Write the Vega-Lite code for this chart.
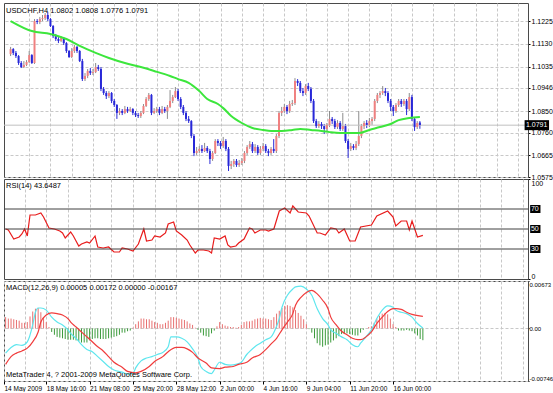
{
"$schema": "https://vega.github.io/schema/vega-lite/v6.json",
"padding": {"left": 2, "top": 2, "right": 0, "bottom": 0},
"background": "white",
"spacing": 2,
"bounds": "flush",
"config": {
 "font": "Liberation Sans Narrow, Liberation Sans, sans-serif",
 "view": {"stroke": "#4a4a4a", "strokeWidth": 1},
 "axis": {"labelFontSize": 7, "labelColor": "#000000", "tickColor": "#000000", "gridColor": "#c8c8c8", "gridDash": [3, 2], "gridWidth": 1, "domain": false, "minExtent": 0, "labelPadding": 1, "tickSize": 2},
 "title": {"fontSize": 7.5, "fontWeight": "normal", "color": "#000000", "anchor": "start", "frame": "group", "offset": -11, "dx": 2}
},
"datasets": {
 "candles": [
{"i":1,"o":1.1087,"h":1.1117,"l":1.1079,"c":1.1108},
{"i":2,"o":1.1108,"h":1.1112,"l":1.1083,"c":1.1092},
{"i":3,"o":1.1092,"h":1.1100,"l":1.1071,"c":1.1079},
{"i":4,"o":1.1079,"h":1.1083,"l":1.1042,"c":1.1050},
{"i":5,"o":1.1050,"h":1.1058,"l":1.1029,"c":1.1033},
{"i":6,"o":1.1033,"h":1.1058,"l":1.1029,"c":1.1042},
{"i":7,"o":1.1042,"h":1.1062,"l":1.1037,"c":1.1054},
{"i":8,"o":1.1054,"h":1.1100,"l":1.1050,"c":1.1083},
{"i":9,"o":1.1083,"h":1.1087,"l":1.1046,"c":1.1050},
{"i":10,"o":1.1050,"h":1.1233,"l":1.1046,"c":1.1225},
{"i":11,"o":1.1225,"h":1.1233,"l":1.1212,"c":1.1221},
{"i":12,"o":1.1221,"h":1.1242,"l":1.1212,"c":1.1233},
{"i":13,"o":1.1233,"h":1.1250,"l":1.1225,"c":1.1237},
{"i":14,"o":1.1237,"h":1.1258,"l":1.1229,"c":1.1250},
{"i":15,"o":1.1250,"h":1.1262,"l":1.1225,"c":1.1233},
{"i":16,"o":1.1233,"h":1.1237,"l":1.1200,"c":1.1204},
{"i":17,"o":1.1204,"h":1.1208,"l":1.1154,"c":1.1162},
{"i":18,"o":1.1162,"h":1.1171,"l":1.1142,"c":1.1150},
{"i":19,"o":1.1150,"h":1.1158,"l":1.1133,"c":1.1142},
{"i":20,"o":1.1142,"h":1.1162,"l":1.1137,"c":1.1154},
{"i":21,"o":1.1154,"h":1.1158,"l":1.1125,"c":1.1133},
{"i":22,"o":1.1133,"h":1.1137,"l":1.1092,"c":1.1100},
{"i":23,"o":1.1100,"h":1.1104,"l":1.1071,"c":1.1075},
{"i":24,"o":1.1075,"h":1.1112,"l":1.1071,"c":1.1100},
{"i":25,"o":1.1100,"h":1.1125,"l":1.1092,"c":1.1117},
{"i":26,"o":1.1117,"h":1.1121,"l":1.1092,"c":1.1100},
{"i":27,"o":1.1100,"h":1.1104,"l":1.1054,"c":1.1058},
{"i":28,"o":1.1058,"h":1.1067,"l":1.0975,"c":1.0983},
{"i":29,"o":1.0983,"h":1.1008,"l":1.0975,"c":1.0996},
{"i":30,"o":1.0996,"h":1.1025,"l":1.0987,"c":1.1017},
{"i":31,"o":1.1017,"h":1.1029,"l":1.1000,"c":1.1008},
{"i":32,"o":1.1008,"h":1.1025,"l":1.1000,"c":1.1012},
{"i":33,"o":1.1012,"h":1.1050,"l":1.1008,"c":1.1033},
{"i":34,"o":1.1033,"h":1.1042,"l":1.1017,"c":1.1025},
{"i":35,"o":1.1025,"h":1.1033,"l":1.0933,"c":1.0942},
{"i":36,"o":1.0942,"h":1.0950,"l":1.0917,"c":1.0925},
{"i":37,"o":1.0925,"h":1.0933,"l":1.0900,"c":1.0912},
{"i":38,"o":1.0912,"h":1.0933,"l":1.0904,"c":1.0925},
{"i":39,"o":1.0925,"h":1.0929,"l":1.0883,"c":1.0892},
{"i":40,"o":1.0892,"h":1.0900,"l":1.0867,"c":1.0875},
{"i":41,"o":1.0875,"h":1.0879,"l":1.0817,"c":1.0842},
{"i":42,"o":1.0842,"h":1.0862,"l":1.0833,"c":1.0850},
{"i":43,"o":1.0850,"h":1.0858,"l":1.0833,"c":1.0842},
{"i":44,"o":1.0842,"h":1.0871,"l":1.0837,"c":1.0858},
{"i":45,"o":1.0858,"h":1.0867,"l":1.0842,"c":1.0850},
{"i":46,"o":1.0850,"h":1.0867,"l":1.0846,"c":1.0858},
{"i":47,"o":1.0858,"h":1.0862,"l":1.0833,"c":1.0842},
{"i":48,"o":1.0842,"h":1.0850,"l":1.0825,"c":1.0833},
{"i":49,"o":1.0833,"h":1.0842,"l":1.0821,"c":1.0829},
{"i":50,"o":1.0829,"h":1.0850,"l":1.0821,"c":1.0842},
{"i":51,"o":1.0842,"h":1.0879,"l":1.0837,"c":1.0871},
{"i":52,"o":1.0871,"h":1.0908,"l":1.0867,"c":1.0900},
{"i":53,"o":1.0900,"h":1.0925,"l":1.0892,"c":1.0917},
{"i":54,"o":1.0917,"h":1.0921,"l":1.0833,"c":1.0842},
{"i":55,"o":1.0842,"h":1.0862,"l":1.0837,"c":1.0850},
{"i":56,"o":1.0850,"h":1.0867,"l":1.0842,"c":1.0858},
{"i":57,"o":1.0858,"h":1.0867,"l":1.0833,"c":1.0842},
{"i":58,"o":1.0842,"h":1.0871,"l":1.0837,"c":1.0858},
{"i":59,"o":1.0858,"h":1.0867,"l":1.0842,"c":1.0850},
{"i":60,"o":1.0850,"h":1.0875,"l":1.0817,"c":1.0867},
{"i":61,"o":1.0867,"h":1.0937,"l":1.0862,"c":1.0892},
{"i":62,"o":1.0892,"h":1.0917,"l":1.0883,"c":1.0908},
{"i":63,"o":1.0908,"h":1.0950,"l":1.0904,"c":1.0933},
{"i":64,"o":1.0933,"h":1.0942,"l":1.0892,"c":1.0900},
{"i":65,"o":1.0900,"h":1.0908,"l":1.0858,"c":1.0867},
{"i":66,"o":1.0867,"h":1.0875,"l":1.0833,"c":1.0842},
{"i":67,"o":1.0842,"h":1.0850,"l":1.0808,"c":1.0817},
{"i":68,"o":1.0817,"h":1.0829,"l":1.0800,"c":1.0808},
{"i":69,"o":1.0808,"h":1.0812,"l":1.0737,"c":1.0746},
{"i":70,"o":1.0746,"h":1.0754,"l":1.0662,"c":1.0675},
{"i":71,"o":1.0675,"h":1.0700,"l":1.0667,"c":1.0683},
{"i":72,"o":1.0683,"h":1.0704,"l":1.0675,"c":1.0692},
{"i":73,"o":1.0692,"h":1.0708,"l":1.0675,"c":1.0683},
{"i":74,"o":1.0683,"h":1.0717,"l":1.0679,"c":1.0696},
{"i":75,"o":1.0696,"h":1.0704,"l":1.0675,"c":1.0683},
{"i":76,"o":1.0683,"h":1.0692,"l":1.0629,"c":1.0650},
{"i":77,"o":1.0650,"h":1.0683,"l":1.0642,"c":1.0675},
{"i":78,"o":1.0675,"h":1.0733,"l":1.0671,"c":1.0725},
{"i":79,"o":1.0725,"h":1.0733,"l":1.0704,"c":1.0717},
{"i":80,"o":1.0717,"h":1.0725,"l":1.0692,"c":1.0704},
{"i":81,"o":1.0704,"h":1.0742,"l":1.0696,"c":1.0725},
{"i":82,"o":1.0725,"h":1.0733,"l":1.0683,"c":1.0692},
{"i":83,"o":1.0692,"h":1.0700,"l":1.0600,"c":1.0621},
{"i":84,"o":1.0621,"h":1.0642,"l":1.0608,"c":1.0629},
{"i":85,"o":1.0629,"h":1.0650,"l":1.0617,"c":1.0642},
{"i":86,"o":1.0642,"h":1.0650,"l":1.0617,"c":1.0625},
{"i":87,"o":1.0625,"h":1.0646,"l":1.0617,"c":1.0633},
{"i":88,"o":1.0633,"h":1.0654,"l":1.0625,"c":1.0642},
{"i":89,"o":1.0642,"h":1.0683,"l":1.0633,"c":1.0675},
{"i":90,"o":1.0675,"h":1.0708,"l":1.0667,"c":1.0700},
{"i":91,"o":1.0700,"h":1.0725,"l":1.0692,"c":1.0712},
{"i":92,"o":1.0712,"h":1.0721,"l":1.0675,"c":1.0683},
{"i":93,"o":1.0683,"h":1.0712,"l":1.0675,"c":1.0700},
{"i":94,"o":1.0700,"h":1.0708,"l":1.0667,"c":1.0675},
{"i":95,"o":1.0675,"h":1.0704,"l":1.0667,"c":1.0692},
{"i":96,"o":1.0692,"h":1.0717,"l":1.0683,"c":1.0704},
{"i":97,"o":1.0704,"h":1.0712,"l":1.0675,"c":1.0683},
{"i":98,"o":1.0683,"h":1.0692,"l":1.0662,"c":1.0675},
{"i":99,"o":1.0675,"h":1.0700,"l":1.0667,"c":1.0692},
{"i":100,"o":1.0692,"h":1.0733,"l":1.0675,"c":1.0683},
{"i":101,"o":1.0683,"h":1.0754,"l":1.0675,"c":1.0746},
{"i":102,"o":1.0746,"h":1.0850,"l":1.0737,"c":1.0842},
{"i":103,"o":1.0842,"h":1.0867,"l":1.0829,"c":1.0850},
{"i":104,"o":1.0850,"h":1.0879,"l":1.0842,"c":1.0867},
{"i":105,"o":1.0867,"h":1.0875,"l":1.0837,"c":1.0850},
{"i":106,"o":1.0850,"h":1.0892,"l":1.0842,"c":1.0879},
{"i":107,"o":1.0879,"h":1.0896,"l":1.0871,"c":1.0883},
{"i":108,"o":1.0883,"h":1.0987,"l":1.0875,"c":1.0975},
{"i":109,"o":1.0975,"h":1.0983,"l":1.0954,"c":1.0967},
{"i":110,"o":1.0967,"h":1.0975,"l":1.0925,"c":1.0933},
{"i":111,"o":1.0933,"h":1.0946,"l":1.0912,"c":1.0925},
{"i":112,"o":1.0925,"h":1.0962,"l":1.0917,"c":1.0954},
{"i":113,"o":1.0954,"h":1.0967,"l":1.0933,"c":1.0942},
{"i":114,"o":1.0942,"h":1.0950,"l":1.0883,"c":1.0892},
{"i":115,"o":1.0892,"h":1.0900,"l":1.0800,"c":1.0808},
{"i":116,"o":1.0808,"h":1.0817,"l":1.0779,"c":1.0787},
{"i":117,"o":1.0787,"h":1.0808,"l":1.0779,"c":1.0796},
{"i":118,"o":1.0796,"h":1.0804,"l":1.0775,"c":1.0787},
{"i":119,"o":1.0787,"h":1.0796,"l":1.0754,"c":1.0775},
{"i":120,"o":1.0775,"h":1.0800,"l":1.0767,"c":1.0792},
{"i":121,"o":1.0792,"h":1.0850,"l":1.0783,"c":1.0817},
{"i":122,"o":1.0817,"h":1.0825,"l":1.0796,"c":1.0808},
{"i":123,"o":1.0808,"h":1.0817,"l":1.0775,"c":1.0783},
{"i":124,"o":1.0783,"h":1.0812,"l":1.0775,"c":1.0800},
{"i":125,"o":1.0800,"h":1.0808,"l":1.0767,"c":1.0775},
{"i":126,"o":1.0775,"h":1.0842,"l":1.0767,"c":1.0787},
{"i":127,"o":1.0787,"h":1.0796,"l":1.0717,"c":1.0725},
{"i":128,"o":1.0725,"h":1.0733,"l":1.0654,"c":1.0692},
{"i":129,"o":1.0692,"h":1.0717,"l":1.0683,"c":1.0704},
{"i":130,"o":1.0704,"h":1.0712,"l":1.0687,"c":1.0696},
{"i":131,"o":1.0696,"h":1.0725,"l":1.0687,"c":1.0712},
{"i":132,"o":1.0712,"h":1.0850,"l":1.0704,"c":1.0746},
{"i":133,"o":1.0746,"h":1.0796,"l":1.0737,"c":1.0787},
{"i":134,"o":1.0787,"h":1.0808,"l":1.0775,"c":1.0800},
{"i":135,"o":1.0800,"h":1.0812,"l":1.0779,"c":1.0792},
{"i":136,"o":1.0792,"h":1.0821,"l":1.0783,"c":1.0808},
{"i":137,"o":1.0808,"h":1.0825,"l":1.0792,"c":1.0817},
{"i":138,"o":1.0817,"h":1.0900,"l":1.0808,"c":1.0892},
{"i":139,"o":1.0892,"h":1.0925,"l":1.0883,"c":1.0917},
{"i":140,"o":1.0917,"h":1.0933,"l":1.0904,"c":1.0925},
{"i":141,"o":1.0925,"h":1.0954,"l":1.0917,"c":1.0933},
{"i":142,"o":1.0933,"h":1.0946,"l":1.0912,"c":1.0925},
{"i":143,"o":1.0925,"h":1.0933,"l":1.0883,"c":1.0892},
{"i":144,"o":1.0892,"h":1.0900,"l":1.0850,"c":1.0867},
{"i":145,"o":1.0867,"h":1.0875,"l":1.0829,"c":1.0850},
{"i":146,"o":1.0850,"h":1.0883,"l":1.0842,"c":1.0875},
{"i":147,"o":1.0875,"h":1.0900,"l":1.0867,"c":1.0892},
{"i":148,"o":1.0892,"h":1.0900,"l":1.0867,"c":1.0879},
{"i":149,"o":1.0879,"h":1.0900,"l":1.0871,"c":1.0892},
{"i":150,"o":1.0892,"h":1.0900,"l":1.0833,"c":1.0858},
{"i":151,"o":1.0858,"h":1.0925,"l":1.0850,"c":1.0908},
{"i":152,"o":1.0908,"h":1.0917,"l":1.0808,"c":1.0817},
{"i":153,"o":1.0817,"h":1.0825,"l":1.0767,"c":1.0783},
{"i":154,"o":1.0783,"h":1.0808,"l":1.0775,"c":1.0800},
{"i":155,"o":1.0802,"h":1.0808,"l":1.0776,"c":1.0791}
 ],
 "ma": [
{"i":1,"v":1.1225},{"i":9,"v":1.1183},{"i":16,"v":1.1171},{"i":22,"v":1.1150},{"i":27,"v":1.1121},{"i":33,"v":1.1092},{"i":38,"v":1.1071},{"i":44,"v":1.1050},{"i":50,"v":1.1033},{"i":55,"v":1.1017},{"i":61,"v":1.0996},{"i":64,"v":1.0983},{"i":68,"v":1.0967},{"i":72,"v":1.0933},{"i":75,"v":1.0900},{"i":79,"v":1.0879},{"i":81,"v":1.0862},{"i":84,"v":1.0829},{"i":88,"v":1.0800},{"i":92,"v":1.0779},{"i":96,"v":1.0771},{"i":99,"v":1.0767},{"i":103,"v":1.0767},{"i":107,"v":1.0771},{"i":110,"v":1.0775},{"i":114,"v":1.0771},{"i":118,"v":1.0767},{"i":121,"v":1.0762},{"i":125,"v":1.0758},{"i":129,"v":1.0758},{"i":132,"v":1.0758},{"i":136,"v":1.0771},{"i":140,"v":1.0783},{"i":144,"v":1.0796},{"i":147,"v":1.0812},{"i":151,"v":1.0821},{"i":155,"v":1.0825}
 ],
 "rsi": [
{"i":1,"v":50},{"i":2,"v":49},{"i":4,"v":40},{"i":6,"v":42},{"i":7,"v":45},{"i":8,"v":50},{"i":9,"v":43},{"i":10,"v":64},{"i":12,"v":64},{"i":14,"v":66},{"i":15,"v":62},{"i":17,"v":51},{"i":19,"v":50},{"i":21,"v":48},{"i":22,"v":46},{"i":23,"v":41},{"i":25,"v":47},{"i":26,"v":43},{"i":28,"v":33},{"i":29,"v":35},{"i":31,"v":37},{"i":32,"v":36},{"i":34,"v":43},{"i":35,"v":32},{"i":37,"v":31},{"i":39,"v":32},{"i":41,"v":27},{"i":43,"v":27},{"i":44,"v":31},{"i":46,"v":30},{"i":48,"v":28},{"i":50,"v":35},{"i":52,"v":50},{"i":53,"v":38},{"i":55,"v":39},{"i":56,"v":43},{"i":58,"v":42},{"i":60,"v":46},{"i":61,"v":55},{"i":63,"v":57},{"i":64,"v":48},{"i":66,"v":44},{"i":68,"v":39},{"i":69,"v":34},{"i":71,"v":26},{"i":72,"v":29},{"i":74,"v":29},{"i":76,"v":28},{"i":77,"v":26},{"i":78,"v":41},{"i":80,"v":40},{"i":82,"v":43},{"i":83,"v":34},{"i":84,"v":32},{"i":86,"v":33},{"i":87,"v":36},{"i":89,"v":40},{"i":91,"v":51},{"i":92,"v":50},{"i":93,"v":46},{"i":95,"v":49},{"i":97,"v":49},{"i":98,"v":48},{"i":100,"v":50},{"i":102,"v":68},{"i":104,"v":71},{"i":106,"v":66},{"i":107,"v":73},{"i":109,"v":67},{"i":112,"v":66},{"i":113,"v":63},{"i":116,"v":46},{"i":117,"v":46},{"i":119,"v":44},{"i":121,"v":51},{"i":123,"v":50},{"i":124,"v":46},{"i":126,"v":50},{"i":128,"v":38},{"i":130,"v":38},{"i":132,"v":52},{"i":136,"v":54},{"i":138,"v":63},{"i":142,"v":68},{"i":144,"v":62},{"i":145,"v":53},{"i":147,"v":58},{"i":149,"v":58},{"i":150,"v":49},{"i":151,"v":58},{"i":153,"v":42},{"i":155,"v":43.65}
 ],
 "macd": [
{"i":1,"v":-0.0035},{"i":3,"v":-0.0027},{"i":5,"v":-0.0023},{"i":7,"v":-0.0024},{"i":9,"v":-0.0019},{"i":11,"v":0.0005},{"i":12,"v":0.0023},{"i":13,"v":0.0029},{"i":14,"v":0.0029},{"i":16,"v":0.0026},{"i":18,"v":0.0016},{"i":20,"v":0.0009},{"i":22,"v":0.0005},{"i":24,"v":-0.0002},{"i":25,"v":-0.0007},{"i":27,"v":-0.0014},{"i":29,"v":-0.0023},{"i":31,"v":-0.003},{"i":33,"v":-0.0033},{"i":35,"v":-0.004},{"i":37,"v":-0.0047},{"i":39,"v":-0.0054},{"i":41,"v":-0.0059},{"i":44,"v":-0.0062},{"i":46,"v":-0.0065},{"i":48,"v":-0.0064},{"i":49,"v":-0.0056},{"i":51,"v":-0.0046},{"i":53,"v":-0.0042},{"i":55,"v":-0.004},{"i":57,"v":-0.0037},{"i":59,"v":-0.0034},{"i":61,"v":-0.0026},{"i":62,"v":-0.0012},{"i":64,"v":-0.0012},{"i":66,"v":-0.0014},{"i":68,"v":-0.0019},{"i":70,"v":-0.0029},{"i":72,"v":-0.0042},{"i":73,"v":-0.0054},{"i":75,"v":-0.0061},{"i":77,"v":-0.0064},{"i":78,"v":-0.0059},{"i":80,"v":-0.0048},{"i":82,"v":-0.0051},{"i":84,"v":-0.0052},{"i":86,"v":-0.0051},{"i":88,"v":-0.0048},{"i":90,"v":-0.0037},{"i":91,"v":-0.0033},{"i":93,"v":-0.0026},{"i":95,"v":-0.0021},{"i":97,"v":-0.0016},{"i":99,"v":-0.0012},{"i":101,"v":0.0003},{"i":102,"v":0.0014},{"i":103,"v":0.003},{"i":105,"v":0.0047},{"i":107,"v":0.0056},{"i":108,"v":0.0059},{"i":110,"v":0.006},{"i":112,"v":0.0056},{"i":114,"v":0.0047},{"i":116,"v":0.0028},{"i":118,"v":0.0014},{"i":120,"v":0.0005},{"i":121,"v":-0.0002},{"i":123,"v":-0.0007},{"i":125,"v":-0.0012},{"i":127,"v":-0.0016},{"i":129,"v":-0.0023},{"i":131,"v":-0.0026},{"i":132,"v":-0.0021},{"i":134,"v":-0.0012},{"i":136,"v":-0.0002},{"i":138,"v":0.0014},{"i":140,"v":0.0026},{"i":142,"v":0.0032},{"i":144,"v":0.003},{"i":145,"v":0.0026},{"i":147,"v":0.0023},{"i":149,"v":0.0021},{"i":151,"v":0.0016},{"i":153,"v":0.0007},{"i":155,"v":0.00005}
 ],
 "signal": [
{"i":1,"v":-0.0051},{"i":3,"v":-0.004},{"i":5,"v":-0.0035},{"i":7,"v":-0.0032},{"i":9,"v":-0.0028},{"i":11,"v":-0.0019},{"i":13,"v":-0.0005},{"i":14,"v":0.0009},{"i":16,"v":0.0019},{"i":18,"v":0.0022},{"i":20,"v":0.0021},{"i":22,"v":0.0019},{"i":24,"v":0.0014},{"i":25,"v":0.0009},{"i":27,"v":0.0002},{"i":29,"v":-0.0005},{"i":31,"v":-0.0012},{"i":33,"v":-0.0019},{"i":35,"v":-0.0026},{"i":37,"v":-0.0032},{"i":39,"v":-0.004},{"i":41,"v":-0.0048},{"i":44,"v":-0.0055},{"i":46,"v":-0.0061},{"i":49,"v":-0.0063},{"i":51,"v":-0.0061},{"i":54,"v":-0.0054},{"i":56,"v":-0.0047},{"i":59,"v":-0.004},{"i":61,"v":-0.0033},{"i":64,"v":-0.0027},{"i":66,"v":-0.0027},{"i":68,"v":-0.0029},{"i":70,"v":-0.0034},{"i":72,"v":-0.0042},{"i":75,"v":-0.0049},{"i":77,"v":-0.0056},{"i":80,"v":-0.0057},{"i":82,"v":-0.0055},{"i":85,"v":-0.0054},{"i":87,"v":-0.0051},{"i":90,"v":-0.0048},{"i":92,"v":-0.0042},{"i":95,"v":-0.0037},{"i":97,"v":-0.003},{"i":99,"v":-0.0022},{"i":101,"v":-0.0014},{"i":103,"v":-0.0002},{"i":105,"v":0.0009},{"i":107,"v":0.0021},{"i":108,"v":0.0033},{"i":110,"v":0.0044},{"i":112,"v":0.0051},{"i":114,"v":0.0054},{"i":116,"v":0.0049},{"i":118,"v":0.004},{"i":120,"v":0.0028},{"i":121,"v":0.0016},{"i":123,"v":0.0005},{"i":125,"v":-0.0004},{"i":127,"v":-0.0009},{"i":129,"v":-0.0014},{"i":131,"v":-0.0016},{"i":132,"v":-0.0016},{"i":134,"v":-0.0012},{"i":136,"v":-0.0005},{"i":138,"v":0.0007},{"i":140,"v":0.0016},{"i":142,"v":0.0024},{"i":144,"v":0.0028},{"i":145,"v":0.0028},{"i":147,"v":0.0027},{"i":149,"v":0.0023},{"i":151,"v":0.002},{"i":155,"v":0.00172}
 ],
 "hist": [
{"i":1,"h":0.0016},{"i":2,"h":0.0014},{"i":3,"h":0.0014},{"i":4,"h":0.0013},{"i":5,"h":0.0012},{"i":6,"h":0.0011},{"i":7,"h":0.0008},{"i":8,"h":0.0008},{"i":9,"h":0.0009},{"i":10,"h":0.0017},{"i":11,"h":0.0024},{"i":12,"h":0.0028},{"i":13,"h":0.0029},{"i":14,"h":0.0023},{"i":15,"h":0.0016},{"i":16,"h":0.0009},{"i":17,"h":0.0002},{"i":18,"h":-0.0005},{"i":19,"h":-0.0009},{"i":20,"h":-0.0012},{"i":21,"h":-0.0013},{"i":22,"h":-0.0014},{"i":23,"h":-0.0015},{"i":24,"h":-0.0016},{"i":25,"h":-0.0016},{"i":26,"h":-0.0016},{"i":27,"h":-0.0017},{"i":28,"h":-0.0018},{"i":29,"h":-0.002},{"i":30,"h":-0.002},{"i":31,"h":-0.002},{"i":32,"h":-0.0017},{"i":33,"h":-0.0015},{"i":34,"h":-0.0014},{"i":35,"h":-0.0014},{"i":36,"h":-0.0015},{"i":37,"h":-0.0015},{"i":38,"h":-0.0015},{"i":39,"h":-0.0014},{"i":40,"h":-0.0013},{"i":41,"h":-0.0012},{"i":42,"h":-0.0011},{"i":43,"h":-0.0009},{"i":44,"h":-0.0006},{"i":45,"h":-0.0006},{"i":46,"h":-0.0004},{"i":47,"h":-0.0003},{"i":48,"h":0.0001},{"i":49,"h":0.0006},{"i":50,"h":0.001},{"i":51,"h":0.0014},{"i":52,"h":0.0014},{"i":53,"h":0.0013},{"i":54,"h":0.0013},{"i":55,"h":0.0011},{"i":56,"h":0.0009},{"i":57,"h":0.0008},{"i":58,"h":0.0006},{"i":59,"h":0.0006},{"i":60,"h":0.0008},{"i":61,"h":0.0011},{"i":62,"h":0.0016},{"i":63,"h":0.0016},{"i":64,"h":0.0015},{"i":65,"h":0.0014},{"i":66,"h":0.0013},{"i":67,"h":0.0012},{"i":68,"h":0.001},{"i":69,"h":0.0007},{"i":70,"h":0.0005},{"i":71,"h":0.0001},{"i":72,"h":-0.0002},{"i":73,"h":-0.0006},{"i":74,"h":-0.001},{"i":75,"h":-0.0011},{"i":76,"h":-0.0012},{"i":77,"h":-0.0007},{"i":78,"h":-0.0003},{"i":79,"h":0.0003},{"i":80,"h":0.0009},{"i":81,"h":0.0006},{"i":82,"h":0.0004},{"i":83,"h":0.0003},{"i":84,"h":0.0002},{"i":85,"h":0.0002},{"i":86,"h":0.0001},{"i":87,"h":0.0002},{"i":88,"h":0.0005},{"i":89,"h":0.0009},{"i":90,"h":0.001},{"i":91,"h":0.001},{"i":92,"h":0.0011},{"i":93,"h":0.0013},{"i":94,"h":0.0014},{"i":95,"h":0.0015},{"i":96,"h":0.0014},{"i":97,"h":0.0014},{"i":98,"h":0.0013},{"i":99,"h":0.0012},{"i":100,"h":0.0016},{"i":101,"h":0.0021},{"i":102,"h":0.0025},{"i":103,"h":0.0029},{"i":104,"h":0.0032},{"i":105,"h":0.0033},{"i":106,"h":0.0032},{"i":107,"h":0.003},{"i":108,"h":0.0026},{"i":109,"h":0.0022},{"i":110,"h":0.0018},{"i":111,"h":0.0013},{"i":112,"h":0.0006},{"i":113,"h":-0.0001},{"i":114,"h":-0.0006},{"i":115,"h":-0.0014},{"i":116,"h":-0.0021},{"i":117,"h":-0.0024},{"i":118,"h":-0.0026},{"i":119,"h":-0.0024},{"i":120,"h":-0.0023},{"i":121,"h":-0.002},{"i":122,"h":-0.0017},{"i":123,"h":-0.0014},{"i":124,"h":-0.0011},{"i":125,"h":-0.0008},{"i":126,"h":-0.0008},{"i":127,"h":-0.0007},{"i":128,"h":-0.0008},{"i":129,"h":-0.0009},{"i":130,"h":-0.001},{"i":131,"h":-0.001},{"i":132,"h":-0.0006},{"i":133,"h":-0.0002},{"i":134,"h":0.0},{"i":135,"h":0.0002},{"i":136,"h":0.0003},{"i":137,"h":0.0008},{"i":138,"h":0.0014},{"i":139,"h":0.0018},{"i":140,"h":0.0021},{"i":141,"h":0.0022},{"i":142,"h":0.002},{"i":143,"h":0.0014},{"i":144,"h":0.0006},{"i":145,"h":0.0002},{"i":146,"h":-0.0003},{"i":147,"h":-0.0003},{"i":148,"h":-0.0003},{"i":149,"h":-0.0002},{"i":150,"h":-0.0003},{"i":151,"h":-0.0004},{"i":152,"h":-0.0007},{"i":153,"h":-0.001},{"i":154,"h":-0.0015},{"i":155,"h":-0.00167}
 ]
},
"vconcat": [
 {
  "width": 524, "height": 174,
  "title": {"text": "USDCHF,H4  1.0802 1.0808 1.0776 1.0791"},
  "resolve": {"axis": {"x": "independent", "y": "independent"}},
  "layer": [
   {
    "data": {"name": "candles"},
    "mark": {"type": "rule", "strokeWidth": 1, "clip": true},
    "encoding": {
     "x": {"field": "i", "type": "quantitative", "scale": {"domain": [0.4, 193.8], "nice": false, "zero": false},
       "axis": {"values": [8,16,24,32,40,48,56,64,72,80,88,96,104,112,120,128,136,144,152,160,168,176,184,192], "grid": true, "labels": false, "ticks": false, "domain": false, "title": null}},
     "y": {"field": "l", "type": "quantitative", "scale": {"domain": [1.0575, 1.13], "nice": false, "zero": false},
       "axis": {"orient": "right", "values": [1.0575, 1.0665, 1.076, 1.085, 1.0946, 1.1035, 1.113, 1.1225], "format": ".4f", "grid": true, "title": null, "labelOverlap": false}},
     "y2": {"field": "h"},
     "color": {"condition": {"test": "datum.c >= datum.o", "value": "#8c8c8c"}, "value": "#2828d8"}
    }
   },
   {
    "data": {"values": [{"p": 1.0791}]},
    "mark": {"type": "rule", "color": "#c0c0c0", "strokeWidth": 1},
    "encoding": {
     "y": {"field": "p", "type": "quantitative", "axis": null}
    }
   },
   {
    "data": {"name": "candles"},
    "mark": {"type": "bar", "size": 2, "clip": true},
    "encoding": {
     "x": {"field": "i", "type": "quantitative", "axis": null},
     "y": {"field": "o", "type": "quantitative", "axis": null},
     "y2": {"field": "c"},
     "color": {"condition": {"test": "datum.c >= datum.o", "value": "#f08080"}, "value": "#2828d8"}
    }
   },
   {
    "data": {"name": "ma"},
    "mark": {"type": "line", "color": "#3ce63c", "strokeWidth": 2, "interpolate": "monotone"},
    "encoding": {
     "x": {"field": "i", "type": "quantitative", "axis": null},
     "y": {"field": "v", "type": "quantitative", "axis": null}
    }
   },
   {
    "data": {"values": [{"p": 1.0791}]},
    "mark": {"type": "rect", "color": "#000000", "clip": false, "yOffset": -5, "y2Offset": 5},
    "encoding": {
     "x": {"datum": 194.4, "type": "quantitative", "axis": null},
     "x2": {"datum": 203.6},
     "y": {"field": "p", "type": "quantitative", "axis": null},
     "y2": {"field": "p"}
    }
   },
   {
    "data": {"values": [{"p": 1.0791, "t": "1.0791"}]},
    "mark": {"type": "text", "color": "#ffffff", "align": "left", "baseline": "middle", "fontSize": 7, "clip": false},
    "encoding": {
     "x": {"datum": 194.9, "type": "quantitative", "axis": null},
     "y": {"field": "p", "type": "quantitative", "axis": null},
     "text": {"field": "t"}
    }
   }
  ]
 },
 {
  "width": 524, "height": 100,
  "title": {"text": "RSI(14) 43.6487"},
  "resolve": {"axis": {"x": "independent", "y": "independent"}},
  "layer": [
   {
    "data": {"name": "rsi"},
    "mark": {"type": "line", "color": "#e81c1c", "strokeWidth": 1.2},
    "encoding": {
     "x": {"field": "i", "type": "quantitative", "scale": {"domain": [0.4, 193.8], "nice": false, "zero": false},
       "axis": {"values": [8,16,24,32,40,48,56,64,72,80,88,96,104,112,120,128,136,144,152,160,168,176,184,192], "grid": true, "labels": false, "ticks": false, "domain": false, "title": null}},
     "y": {"field": "v", "type": "quantitative", "scale": {"domain": [0, 100], "nice": false},
       "axis": {"orient": "right", "values": [0, 100], "labelFlush": true, "grid": false, "title": null}}
    }
   },
   {
    "data": {"values": [{"lv": 70}, {"lv": 50}, {"lv": 30}]},
    "mark": {"type": "rule", "color": "#404040", "strokeWidth": 1},
    "encoding": {
     "y": {"field": "lv", "type": "quantitative", "axis": null}
    }
   },
   {
    "data": {"values": [{"lv": 70}, {"lv": 50}, {"lv": 30}]},
    "mark": {"type": "rect", "color": "#000000", "clip": false, "yOffset": -4, "y2Offset": 4},
    "encoding": {
     "x": {"datum": 194.6, "type": "quantitative", "axis": null},
     "x2": {"datum": 198.4},
     "y": {"field": "lv", "type": "quantitative", "axis": null},
     "y2": {"field": "lv"}
    }
   },
   {
    "data": {"values": [{"lv": 70}, {"lv": 50}, {"lv": 30}]},
    "mark": {"type": "text", "color": "#ffffff", "align": "left", "baseline": "middle", "fontSize": 7, "clip": false},
    "encoding": {
     "x": {"datum": 194.9, "type": "quantitative", "axis": null},
     "y": {"field": "lv", "type": "quantitative", "axis": null},
     "text": {"field": "lv"}
    }
   }
  ]
 },
 {
  "width": 524, "height": 100,
  "title": {"text": "MACD(12,26,9) 0.00005 0.00172 0.00000 -0.00167"},
  "resolve": {"axis": {"x": "independent", "y": "independent"}},
  "layer": [
   {
    "data": {"name": "hist"},
    "mark": {"type": "rule", "strokeWidth": 1},
    "encoding": {
     "x": {"field": "i", "type": "quantitative", "scale": {"domain": [0.4, 193.8], "nice": false, "zero": false},
       "axis": {"values": [0.4,8,16,24,32,40,48,56,64,72,80,88,96,104,112,120,128,136,144,152,160,168,176,184,192], "grid": true, "domain": false, "title": null, "labelAlign": "left", "labelPadding": 1, "tickSize": 3, "labelFontSize": 6.5, "labelFlush": false, "labelOverlap": false,
        "labelExpr": "datum.value < 1 ? '14 May 2009' : ((datum.value % 16 == 0 && datum.value <= 144) ? ['','18 May 16:00','21 May 08:00','25 May 20:00','28 May 12:00','2 Jun 00:00','4 Jun 16:00','9 Jun 04:00','11 Jun 20:00','16 Jun 00:00'][datum.value / 16] : '')",
        "tickOpacity": {"condition": {"test": "datum.value > 144 || (datum.value % 16 != 0 && datum.value > 1)", "value": 0}, "value": 1}}},
     "y": {"field": "h", "type": "quantitative", "scale": {"domain": [-0.00746, 0.00673], "nice": false, "zero": false},
       "axis": {"orient": "right", "values": [-0.00746, 0, 0.00673], "labelFlush": true, "grid": true, "title": null, "labelFontSize": 6, "labelPadding": 0, "tickSize": 1, "labelExpr": "datum.value == 0 ? '0.00' : (datum.value < 0 ? '-' : '') + format(abs(datum.value), '.5f')"}},
     "y2": {"datum": 0},
     "color": {"condition": {"test": "datum.h > 0", "value": "#e87070"}, "value": "#3a9a3a"}
    }
   },
   {
    "data": {"name": "macd"},
    "mark": {"type": "line", "color": "#5ee6ee", "strokeWidth": 1.2, "interpolate": "monotone"},
    "encoding": {
     "x": {"field": "i", "type": "quantitative", "axis": null},
     "y": {"field": "v", "type": "quantitative", "axis": null}
    }
   },
   {
    "data": {"name": "signal"},
    "mark": {"type": "line", "color": "#f03c3c", "strokeWidth": 1.2, "interpolate": "monotone"},
    "encoding": {
     "x": {"field": "i", "type": "quantitative", "axis": null},
     "y": {"field": "v", "type": "quantitative", "axis": null}
    }
   },
   {
    "data": {"values": [{"t": "MetaTrader 4, ? 2001-2009 MetaQuotes Software Corp."}]},
    "mark": {"type": "text", "color": "#000000", "align": "left", "baseline": "middle", "fontSize": 7.5},
    "encoding": {
     "x": {"datum": 1.1, "type": "quantitative", "axis": null},
     "y": {"datum": -0.0066, "type": "quantitative", "axis": null},
     "text": {"field": "t"}
    }
   }
  ]
 }
]
}
